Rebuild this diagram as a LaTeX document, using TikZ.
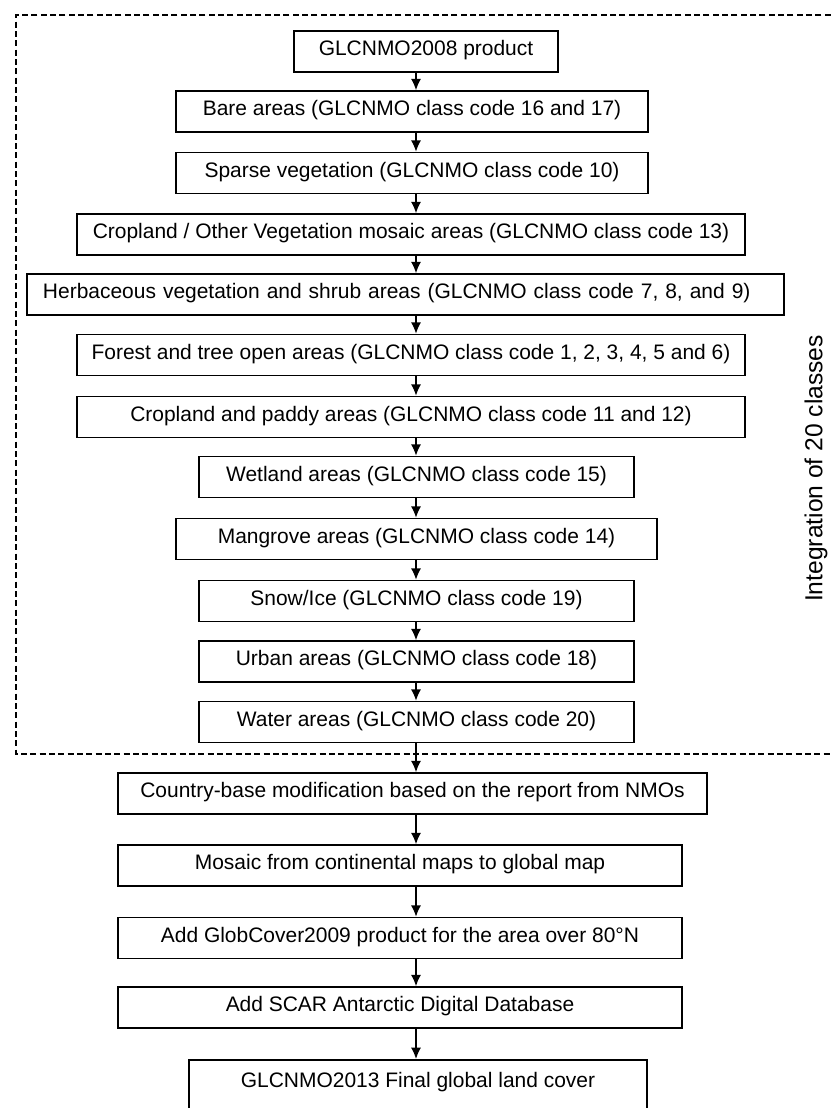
\documentclass[tikz,border=0pt]{standalone}
\usepackage{fontspec}
\setmainfont{Liberation Sans}
\usetikzlibrary{arrows.meta,positioning}
\tikzset{>={Latex[length=3.4mm,width=3mm]}}
\tikzset{stepbox/.style={draw, line width=1.3pt, minimum height=12.3mm, inner sep=0pt, text height=0.72em, text depth=0pt, font=\fontsize{17.9}{21}\selectfont}}
\tikzset{flow/.style={->, line width=1.2pt}}
\tikzset{frame/.style={line width=1.1pt, dash pattern=on 1.8mm off 1mm}}

\begin{document}
\begin{tikzpicture}[x=0.3mm,y=-0.3mm]
      \useasboundingbox (0,0) rectangle (831,1108);
      \clip (0,0) rectangle (831,1108);
      \coordinate (s) at (416,0);
      % integration block
      \draw[frame] (840,15) -- (16,15) -- (16,754) -- (840,754);
      \node[stepbox, minimum width=79.2mm] (b1) at (426,51.5) {GLCNMO2008 product};
      \node[stepbox, minimum width=141.6mm] (b2) at (412,111.5) {Bare areas (GLCNMO class code 16 and 17)};
      \node[stepbox, minimum width=141.6mm] (b3) at (412,173) {Sparse vegetation (GLCNMO class code 10)};
      \node[stepbox, minimum width=200.4mm] (b4) at (411,234.5) {Cropland / Other Vegetation mosaic areas (GLCNMO class code 13)};
      \node[stepbox, minimum width=227.1mm, text width=217.5mm, align=left] (b5) at (405.5,294.5) {Herbaceous vegetation and shrub areas (GLCNMO class code 7, 8, and 9)};
      \node[stepbox, minimum width=200.4mm] (b6) at (411,355) {Forest and tree open areas (GLCNMO class code 1, 2, 3, 4, 5 and 6)};
      \node[stepbox, minimum width=200.4mm] (b7) at (411,417) {Cropland and paddy areas (GLCNMO class code 11 and 12)};
      \node[stepbox, minimum width=130.5mm] (b8) at (416.5,477) {Wetland areas (GLCNMO class code 15)};
      \node[stepbox, minimum width=144.3mm] (b9) at (416.5,539) {Mangrove areas (GLCNMO class code 14)};
      \node[stepbox, minimum width=130.5mm] (b10) at (416.5,601) {Snow/Ice (GLCNMO class code 19)};
      \node[stepbox, minimum width=130.5mm] (b11) at (416.5,661.5) {Urban areas (GLCNMO class code 18)};
      \node[stepbox, minimum width=130.5mm] (b12) at (416.5,722) {Water areas (GLCNMO class code 20)};
      \node[rotate=90, font=\fontsize{21}{25}\selectfont] (lbl) at (816,468.5) {Integration of 20 classes};
      % after integration
      \node[stepbox, minimum width=176.7mm] (b13) at (412.5,793.5) {Country-base modification based on the report from NMOs};
      \node[stepbox, minimum width=169.2mm] (b14) at (400,865.5) {Mosaic from continental maps to global map};
      \node[stepbox, minimum width=169.2mm] (b15) at (400,938) {Add GlobCover2009 product for the area over 80°N};
      \node[stepbox, minimum width=169.2mm] (b16) at (400,1007.5) {Add SCAR Antarctic Digital Database};
      \node[stepbox, minimum width=137.4mm, minimum height=0pt, text height=23.5pt, text depth=8.6mm, anchor=north] (b17) at (418,1059) {GLCNMO2013 Final global land cover};
      \draw[flow] (b1.south -| s) -- (b2.north -| s);
      \draw[flow] (b2.south -| s) -- (b3.north -| s);
      \draw[flow] (b3.south -| s) -- (b4.north -| s);
      \draw[flow] (b4.south -| s) -- (b5.north -| s);
      \draw[flow] (b5.south -| s) -- (b6.north -| s);
      \draw[flow] (b6.south -| s) -- (b7.north -| s);
      \draw[flow] (b7.south -| s) -- (b8.north -| s);
      \draw[flow] (b8.south -| s) -- (b9.north -| s);
      \draw[flow] (b9.south -| s) -- (b10.north -| s);
      \draw[flow] (b10.south -| s) -- (b11.north -| s);
      \draw[flow] (b11.south -| s) -- (b12.north -| s);
      \draw[flow] (b12.south -| s) -- (b13.north -| s);
      \draw[flow] (b13.south -| s) -- (b14.north -| s);
      \draw[flow] (b14.south -| s) -- (b15.north -| s);
      \draw[flow] (b15.south -| s) -- (b16.north -| s);
      \draw[flow] (b16.south -| s) -- (b17.north -| s);
\end{tikzpicture}
\end{document}
